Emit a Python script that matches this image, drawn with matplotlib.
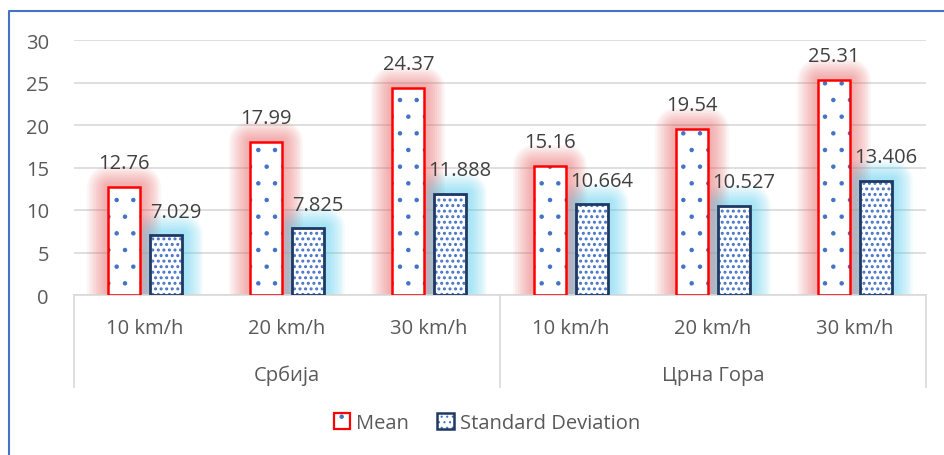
import matplotlib
matplotlib.use('Agg')
import matplotlib.pyplot as plt
import numpy as np
from matplotlib.patches import Patch
from matplotlib.lines import Line2D
from matplotlib.legend_handler import HandlerTuple

speeds = ['10 km/h', '20 km/h', '30 km/h', '10 km/h', '20 km/h', '30 km/h']
countries = ['Србија', 'Црна Гора']
mean_vals = [12.76, 17.99, 24.37, 15.16, 19.54, 25.31]
sd_vals = [7.029, 7.825, 11.888, 10.664, 10.527, 13.406]
mean_labels = ['12.76', '17.99', '24.37', '15.16', '19.54', '25.31']
sd_labels = ['7.029', '7.825', '11.888', '10.664', '10.527', '13.406']
yticks = [0, 5, 10, 15, 20, 25, 30]

plt.rcParams['font.family'] = ['Open Sans', 'DejaVu Sans']
plt.rcParams['hatch.linewidth'] = 0.8
TXT = '#595959'
FS = 14.5

fig = plt.figure(figsize=(9.44, 4.56), dpi=100)
ax = fig.add_axes([74 / 944, 1 - 296 / 456, 852 / 944, 255 / 456])

x = np.arange(len(speeds))
w = 0.225
off = 0.146

# soft glow behind the bars, many thin layers so it fades smoothly
for lw in np.arange(30, 3, -3):
    ax.bar(x - off, mean_vals, w, facecolor='none', edgecolor='#ec6464',
           linewidth=lw, alpha=0.07, zorder=1, joinstyle='round')
    ax.bar(x + off, sd_vals, w, facecolor='none', edgecolor='#4fcdf0',
           linewidth=lw, alpha=0.07, zorder=1, joinstyle='round')

# mean bars: sparse blue dots, red outline
ax.bar(x - off, mean_vals, w, facecolor='white', edgecolor='#4472c4',
       hatch='.', linewidth=0, zorder=2)
ax.bar(x - off, mean_vals, w, facecolor='none', edgecolor='#ff0000',
       linewidth=1.8, zorder=3)
# sd bars: dense blue dots, navy outline
with plt.rc_context({'hatch.linewidth': 1.4}):
    ax.bar(x + off, sd_vals, w, facecolor='white', edgecolor='#4472c4',
           hatch='...', linewidth=0, zorder=2)
    sd_patch = Patch(facecolor='white', edgecolor='#4472c4', hatch='...',
                     linewidth=0)
ax.bar(x + off, sd_vals, w, facecolor='none', edgecolor='#1f3864',
       linewidth=2.0, zorder=3)

for i in range(len(x)):
    ax.annotate(mean_labels[i], (x[i] - off, mean_vals[i]), xytext=(0, 13.5),
                textcoords='offset points', ha='center', va='baseline',
                fontsize=FS, color='#404040')
    ax.annotate(sd_labels[i], (x[i] + off, sd_vals[i]), xytext=(7, 13.5),
                textcoords='offset points', ha='center', va='baseline',
                fontsize=FS, color='#404040')

ax.set_xlim(-0.5, 5.5)
ax.set_ylim(0, 30)
ax.set_yticks(yticks)
ax.set_yticklabels([str(t) for t in yticks], fontsize=FS, color=TXT)
ax.tick_params(axis='y', length=0, pad=18)
ax.set_xticks([])
ax.grid(axis='y', color='#d9d9d9', linewidth=1.2, zorder=0)
ax.set_axisbelow(True)
for s in ['top', 'right', 'left']:
    ax.spines[s].set_visible(False)
ax.spines['bottom'].set_color('#d9d9d9')
ax.spines['bottom'].set_linewidth(1.2)

# multi-level category axis
trans = ax.get_xaxis_transform()
for xs in [-0.5, 2.5, 5.5]:
    ax.plot([xs, xs], [0, -92 / 255], transform=trans, color='#d9d9d9',
            linewidth=1.2, clip_on=False)
for i, s in enumerate(speeds):
    ax.text(x[i], -33 / 255, s, transform=trans, ha='center', va='center',
            fontsize=FS, color=TXT)
for j, c in enumerate(countries):
    ax.text(1 + 3 * j, -80 / 255, c, transform=trans, ha='center', va='center',
            fontsize=FS, color=TXT)

h_mean = (Patch(facecolor='white', edgecolor='#4472c4', hatch='.', linewidth=0),
          Patch(facecolor='none', edgecolor='#ff0000', linewidth=1.6))
h_sd = (sd_patch,
        Patch(facecolor='none', edgecolor='#1f3864', linewidth=1.8))
leg = fig.legend([h_mean, h_sd], ['Mean', 'Standard Deviation'],
                 handler_map={tuple: HandlerTuple(ndivide=1, pad=0)},
                 loc='center', bbox_to_anchor=(487 / 944, 1 - 424 / 456),
                 ncol=2, frameon=False, fontsize=FS, handlelength=0.8,
                 handleheight=0.8, handletextpad=0.3, columnspacing=1.4)
for t in leg.get_texts():
    t.set_color(TXT)

# chart border (top and left visible)
bx = 9 / 944
by = 1 - 12 / 456
fig.add_artist(Line2D([bx, bx, 1], [0, by, by], transform=fig.transFigure,
                      color='#4472c4', linewidth=1.5))

fig.savefig('out.png', dpi=100, facecolor='white')
